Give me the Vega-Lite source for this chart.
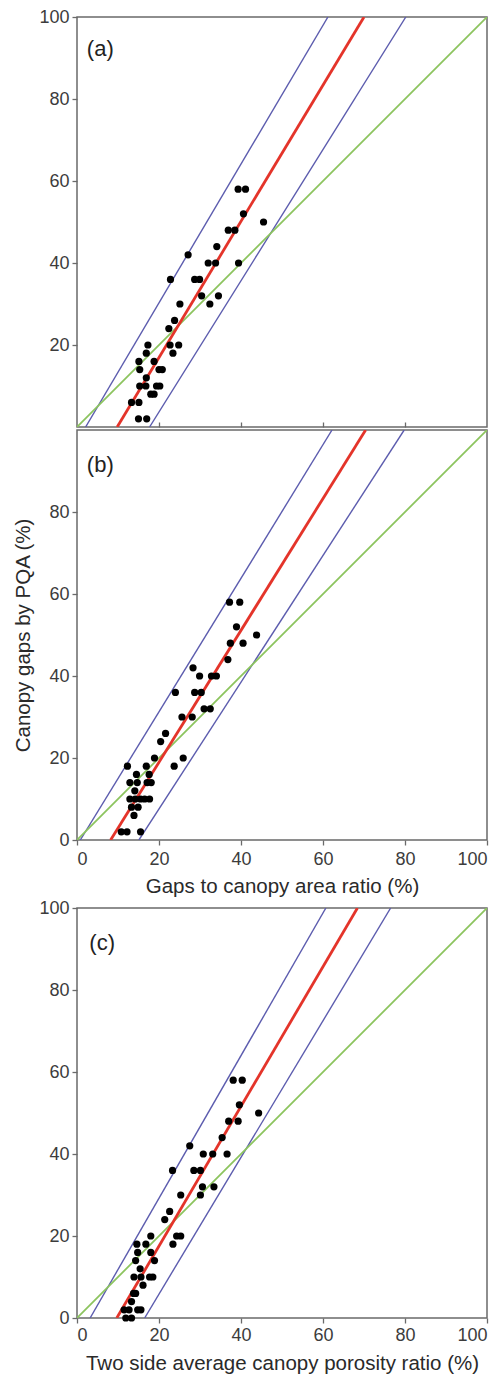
{
  "$schema": "https://vega.github.io/schema/vega-lite/v6.json",
  "padding": {"left": 13, "top": 7, "right": 0, "bottom": 0},
  "spacing": 0,
  "datasets": {
    "lines_a": [
      {"line": "upper", "x": 2.1, "y": 0}, {"line": "upper", "x": 61.2, "y": 100},
      {"line": "fit", "x": 9.8, "y": 0}, {"line": "fit", "x": 70.0, "y": 100},
      {"line": "lower", "x": 17.7, "y": 0}, {"line": "lower", "x": 80.2, "y": 100},
      {"line": "one", "x": 0, "y": 0}, {"line": "one", "x": 100, "y": 100}
    ],
    "lines_b": [
      {"line": "upper", "x": 0.8, "y": 0}, {"line": "upper", "x": 62.2, "y": 100},
      {"line": "fit", "x": 8.2, "y": 0}, {"line": "fit", "x": 70.4, "y": 100},
      {"line": "lower", "x": 15.1, "y": 0}, {"line": "lower", "x": 79.8, "y": 100},
      {"line": "one", "x": 0, "y": 0}, {"line": "one", "x": 100, "y": 100}
    ],
    "lines_c": [
      {"line": "upper", "x": 3.2, "y": 0}, {"line": "upper", "x": 60.7, "y": 100},
      {"line": "fit", "x": 9.7, "y": 0}, {"line": "fit", "x": 68.4, "y": 100},
      {"line": "lower", "x": 16.5, "y": 0}, {"line": "lower", "x": 76.5, "y": 100},
      {"line": "one", "x": 0, "y": 0}, {"line": "one", "x": 100, "y": 100}
    ],
    "pts_a": [
      {"x": 15, "y": 2}, {"x": 17, "y": 2},
      {"x": 13.3, "y": 6}, {"x": 15.1, "y": 6},
      {"x": 18.0, "y": 8}, {"x": 18.8, "y": 8},
      {"x": 15.3, "y": 10}, {"x": 16.8, "y": 10}, {"x": 19.4, "y": 10}, {"x": 20.2, "y": 10},
      {"x": 16.9, "y": 12},
      {"x": 15.3, "y": 14}, {"x": 20.0, "y": 14}, {"x": 20.8, "y": 14},
      {"x": 15.1, "y": 16}, {"x": 18.8, "y": 16},
      {"x": 16.9, "y": 18}, {"x": 23.4, "y": 18},
      {"x": 17.3, "y": 20}, {"x": 22.7, "y": 20}, {"x": 24.8, "y": 20},
      {"x": 22.4, "y": 24},
      {"x": 23.8, "y": 26},
      {"x": 25.1, "y": 30}, {"x": 32.4, "y": 30},
      {"x": 30.4, "y": 32}, {"x": 34.5, "y": 32},
      {"x": 22.8, "y": 36}, {"x": 28.7, "y": 36}, {"x": 29.9, "y": 36},
      {"x": 32.0, "y": 40}, {"x": 33.8, "y": 40}, {"x": 39.4, "y": 40},
      {"x": 27.1, "y": 42},
      {"x": 34.1, "y": 44},
      {"x": 36.9, "y": 48}, {"x": 38.5, "y": 48},
      {"x": 45.5, "y": 50},
      {"x": 40.6, "y": 52},
      {"x": 39.3, "y": 58}, {"x": 41.1, "y": 58}
    ],
    "pts_b": [
      {"x": 10.8, "y": 2}, {"x": 12.2, "y": 2}, {"x": 15.5, "y": 2},
      {"x": 13.9, "y": 6},
      {"x": 13.3, "y": 8}, {"x": 14.9, "y": 8},
      {"x": 12.9, "y": 10}, {"x": 14.2, "y": 10}, {"x": 15.5, "y": 10}, {"x": 16.5, "y": 10}, {"x": 17.7, "y": 10},
      {"x": 14.1, "y": 12},
      {"x": 12.9, "y": 14}, {"x": 14.7, "y": 14}, {"x": 17.1, "y": 14}, {"x": 18.1, "y": 14},
      {"x": 14.5, "y": 16}, {"x": 17.6, "y": 16},
      {"x": 12.3, "y": 18}, {"x": 16.9, "y": 18}, {"x": 23.7, "y": 18},
      {"x": 18.9, "y": 20}, {"x": 25.9, "y": 20},
      {"x": 20.4, "y": 24},
      {"x": 21.6, "y": 26},
      {"x": 25.6, "y": 30}, {"x": 28.1, "y": 30},
      {"x": 31.0, "y": 32}, {"x": 32.5, "y": 32},
      {"x": 24.0, "y": 36}, {"x": 28.7, "y": 36}, {"x": 30.3, "y": 36},
      {"x": 29.9, "y": 40}, {"x": 32.8, "y": 40}, {"x": 34.0, "y": 40},
      {"x": 28.3, "y": 42},
      {"x": 36.8, "y": 44},
      {"x": 37.4, "y": 48}, {"x": 40.5, "y": 48},
      {"x": 43.8, "y": 50},
      {"x": 38.9, "y": 52},
      {"x": 37.2, "y": 58}, {"x": 39.7, "y": 58}
    ],
    "pts_c": [
      {"x": 11.9, "y": 0}, {"x": 13.3, "y": 0},
      {"x": 11.5, "y": 2}, {"x": 12.7, "y": 2}, {"x": 14.8, "y": 2}, {"x": 15.6, "y": 2},
      {"x": 13.3, "y": 4},
      {"x": 13.8, "y": 6}, {"x": 14.3, "y": 6},
      {"x": 16.1, "y": 8},
      {"x": 13.9, "y": 10}, {"x": 15.6, "y": 10}, {"x": 17.7, "y": 10}, {"x": 18.5, "y": 10},
      {"x": 15.4, "y": 12},
      {"x": 14.3, "y": 14}, {"x": 18.9, "y": 14},
      {"x": 14.8, "y": 16}, {"x": 18.0, "y": 16},
      {"x": 14.6, "y": 18}, {"x": 16.8, "y": 18}, {"x": 23.4, "y": 18},
      {"x": 18.0, "y": 20}, {"x": 24.3, "y": 20}, {"x": 25.3, "y": 20},
      {"x": 21.4, "y": 24},
      {"x": 22.6, "y": 26},
      {"x": 25.3, "y": 30}, {"x": 30.1, "y": 30},
      {"x": 30.6, "y": 32}, {"x": 33.4, "y": 32},
      {"x": 23.3, "y": 36}, {"x": 28.5, "y": 36}, {"x": 30.1, "y": 36},
      {"x": 30.8, "y": 40}, {"x": 33.1, "y": 40}, {"x": 36.6, "y": 40},
      {"x": 27.5, "y": 42},
      {"x": 35.4, "y": 44},
      {"x": 37.0, "y": 48}, {"x": 39.3, "y": 48},
      {"x": 44.3, "y": 50},
      {"x": 39.6, "y": 52},
      {"x": 38.1, "y": 58}, {"x": 40.3, "y": 58}
    ]
  },
  "vconcat": [
    {
      "width": 410, "height": 410,
      "encoding": {
        "x": {"field": "x", "type": "quantitative", "scale": {"domain": [0, 100], "nice": false}, "axis": {"values": [20, 40, 60, 80], "labels": false, "tickSize": -5, "title": null}},
        "y": {"field": "y", "type": "quantitative", "scale": {"domain": [0, 100], "nice": false}, "axis": {"values": [20, 40, 60, 80, 100], "title": null}}
      },
      "layer": [
        {
          "data": {"name": "lines_a"},
          "transform": [{"filter": "datum.line == 'upper' || datum.line == 'lower'"}],
          "mark": {"type": "line", "clip": true, "color": "#5c5cae", "strokeWidth": 1.4},
          "encoding": {"detail": {"field": "line"}}
        },
        {
          "data": {"name": "lines_a"},
          "transform": [{"filter": "datum.line == 'one'"}],
          "mark": {"type": "line", "clip": true, "color": "#8cc45e", "strokeWidth": 1.8},
          "encoding": {}
        },
        {
          "data": {"name": "lines_a"},
          "transform": [{"filter": "datum.line == 'fit'"}],
          "mark": {"type": "line", "clip": true, "color": "#e4342a", "strokeWidth": 2.8},
          "encoding": {}
        },
        {
          "data": {"name": "pts_a"},
          "mark": {"type": "circle", "color": "#000000", "opacity": 1, "size": 52}
        },
        {
          "data": {"values": [{"label": "(a)", "x": 2.4, "y": 92.2}]},
          "mark": {"type": "text", "align": "left", "baseline": "middle", "fontSize": 22, "font": "Liberation Sans", "color": "#222222"},
          "encoding": {"text": {"field": "label"}}
        }
      ]
    },
    {
      "width": 410, "height": 410,
      "encoding": {
        "x": {"field": "x", "type": "quantitative", "scale": {"domain": [0, 100], "nice": false}, "axis": {"values": [0, 20, 40, 60, 80, 100], "title": "Gaps to canopy area ratio (%)", "labelPadding": 5, "titlePadding": 8}},
        "y": {"field": "y", "type": "quantitative", "scale": {"domain": [0, 100], "nice": false}, "axis": {"values": [0, 20, 40, 60, 80], "title": "Canopy gaps by PQA (%)", "titlePadding": 15}}
      },
      "layer": [
        {
          "data": {"name": "lines_b"},
          "transform": [{"filter": "datum.line == 'upper' || datum.line == 'lower'"}],
          "mark": {"type": "line", "clip": true, "color": "#5c5cae", "strokeWidth": 1.4},
          "encoding": {"detail": {"field": "line"}}
        },
        {
          "data": {"name": "lines_b"},
          "transform": [{"filter": "datum.line == 'one'"}],
          "mark": {"type": "line", "clip": true, "color": "#8cc45e", "strokeWidth": 1.8},
          "encoding": {}
        },
        {
          "data": {"name": "lines_b"},
          "transform": [{"filter": "datum.line == 'fit'"}],
          "mark": {"type": "line", "clip": true, "color": "#e4342a", "strokeWidth": 2.8},
          "encoding": {}
        },
        {
          "data": {"name": "pts_b"},
          "mark": {"type": "circle", "color": "#000000", "opacity": 1, "size": 52}
        },
        {
          "data": {"values": [{"label": "(b)", "x": 2.4, "y": 91.5}]},
          "mark": {"type": "text", "align": "left", "baseline": "middle", "fontSize": 22, "font": "Liberation Sans", "color": "#222222"},
          "encoding": {"text": {"field": "label"}}
        }
      ]
    },
    {
      "width": 410, "height": 410,
      "encoding": {
        "x": {"field": "x", "type": "quantitative", "scale": {"domain": [0, 100], "nice": false}, "axis": {"values": [0, 20, 40, 60, 80, 100], "title": "Two side average canopy porosity ratio (%)", "labelPadding": 3, "titlePadding": 9}},
        "y": {"field": "y", "type": "quantitative", "scale": {"domain": [0, 100], "nice": false}, "axis": {"values": [0, 20, 40, 60, 80, 100], "title": null}}
      },
      "layer": [
        {
          "data": {"name": "lines_c"},
          "transform": [{"filter": "datum.line == 'upper' || datum.line == 'lower'"}],
          "mark": {"type": "line", "clip": true, "color": "#5c5cae", "strokeWidth": 1.4},
          "encoding": {"detail": {"field": "line"}}
        },
        {
          "data": {"name": "lines_c"},
          "transform": [{"filter": "datum.line == 'one'"}],
          "mark": {"type": "line", "clip": true, "color": "#8cc45e", "strokeWidth": 1.8},
          "encoding": {}
        },
        {
          "data": {"name": "lines_c"},
          "transform": [{"filter": "datum.line == 'fit'"}],
          "mark": {"type": "line", "clip": true, "color": "#e4342a", "strokeWidth": 2.8},
          "encoding": {}
        },
        {
          "data": {"name": "pts_c"},
          "mark": {"type": "circle", "color": "#000000", "opacity": 1, "size": 52}
        },
        {
          "data": {"values": [{"label": "(c)", "x": 3.0, "y": 91.5}]},
          "mark": {"type": "text", "align": "left", "baseline": "middle", "fontSize": 22, "font": "Liberation Sans", "color": "#222222"},
          "encoding": {"text": {"field": "label"}}
        }
      ]
    }
  ],
  "config": {
    "font": "Liberation Sans",
    "view": {"stroke": "#6a6a6a", "strokeWidth": 1.5},
    "axis": {
      "domain": false,
      "grid": false,
      "tickColor": "#6a6a6a",
      "tickWidth": 1.3,
      "tickSize": 5,
      "labelPadding": 3,
      "labelFont": "Liberation Sans",
      "labelFontSize": 18,
      "labelColor": "#3c3c3c",
      "titleFont": "Liberation Sans",
      "titleFontSize": 20.5,
      "titleFontWeight": "normal",
      "titleColor": "#2a2a2a"
    }
  }
}
